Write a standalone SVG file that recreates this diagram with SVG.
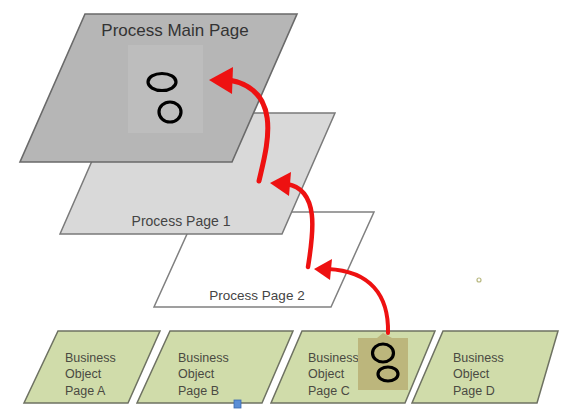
<svg xmlns="http://www.w3.org/2000/svg" width="567" height="420" viewBox="0 0 567 420">
<defs>
<style>
.t{font-family:"Liberation Sans",Arial,sans-serif;fill:#444}
.bo{fill:#d0dcaa;stroke:#6e7262;stroke-width:1.5}
.bt{font-family:"Liberation Sans",Arial,sans-serif;font-size:12.5px;fill:#4a4a42}
.arr{fill:none;stroke:#ee1111;stroke-linecap:round}
.ah{fill:#ee1111}
.ring{fill:none;stroke:#000;stroke-width:3.2}
</style>
</defs>
<rect width="567" height="420" fill="#fff"/>
<g id="page2">
<polygon points="197,212 374,212 331,307 154,307" fill="#fff" stroke="#808080" stroke-width="1.5"/>
<text class="t" x="257" y="300" font-size="13.5" text-anchor="middle">Process Page 2</text>
</g>
<g id="page1">
<polygon points="113,113 335,113 282,234 60,234" fill="#d9d9d9" stroke="#7a7a7a" stroke-width="1.5"/>
<text class="t" x="181" y="226" font-size="14" text-anchor="middle">Process Page 1</text>
</g>
<g id="mainpage">
<polygon points="85,14 297,14 232,162 20,162" fill="#b6b6b6" stroke="#6a6a6a" stroke-width="1.6"/>
<rect x="128" y="45" width="75" height="88" fill="#bdbdbd"/>
<text x="175" y="36" font-family="Liberation Sans, Arial, sans-serif" font-size="17" fill="#333" text-anchor="middle">Process Main Page</text>
<ellipse class="ring" cx="162" cy="82" rx="14" ry="8.5"/>
<ellipse class="ring" cx="170" cy="112" rx="11" ry="10"/>
</g>
<g id="pageA">
<polygon class="bo" points="58,331 160,331 128,403 24,403"/>
<text class="bt" x="65" y="362">Business</text>
<text class="bt" x="65" y="378">Object</text>
<text class="bt" x="65" y="395">Page A</text>
</g>
<g id="pageB">
<polygon class="bo" points="170,331 293,331 262,403 137,403"/>
<text class="bt" x="178" y="362">Business</text>
<text class="bt" x="178" y="378">Object</text>
<text class="bt" x="178" y="395">Page B</text>
</g>
<g id="pageC">
<polygon class="bo" points="302,331 435,331 405,403 271,403"/>
<text class="bt" x="308" y="362">Business</text>
<text class="bt" x="308" y="378">Object</text>
<text class="bt" x="308" y="395">Page C</text>
<path d="M358,338 H377 L383,333 L392,338 H408 V390 H358 Z" fill="#bcb67c"/>
<ellipse class="ring" cx="383" cy="353" rx="10.5" ry="9"/>
<ellipse class="ring" cx="388" cy="374" rx="10" ry="7"/>
</g>
<g id="pageD">
<polygon class="bo" points="443,331 558,331 537,403 412,403"/>
<text class="bt" x="453" y="362">Business</text>
<text class="bt" x="453" y="378">Object</text>
<text class="bt" x="453" y="395">Page D</text>
</g>
<g id="connectors">
<path class="arr" stroke-width="4" d="M388,333 C389,295 370,271 328,269"/>
<polygon class="ah" points="314,269 332,259 330,280"/>
<path class="arr" stroke-width="4.5" d="M308,267 C312,240 322,190 287,184"/>
<polygon class="ah" points="270,183 291,172 289,196"/>
<path class="arr" stroke-width="5" d="M259,181 C266,150 285,90 229,80"/>
<polygon class="ah" points="209,80 233,67 232,94"/>
</g>
<rect x="234" y="400" width="7" height="8" fill="#5b8fd6" stroke="#3a6ab0" stroke-width="0.8"/>
<circle cx="479" cy="280" r="2" fill="#fff" stroke="#b8b880" stroke-width="1.2"/>
</svg>
